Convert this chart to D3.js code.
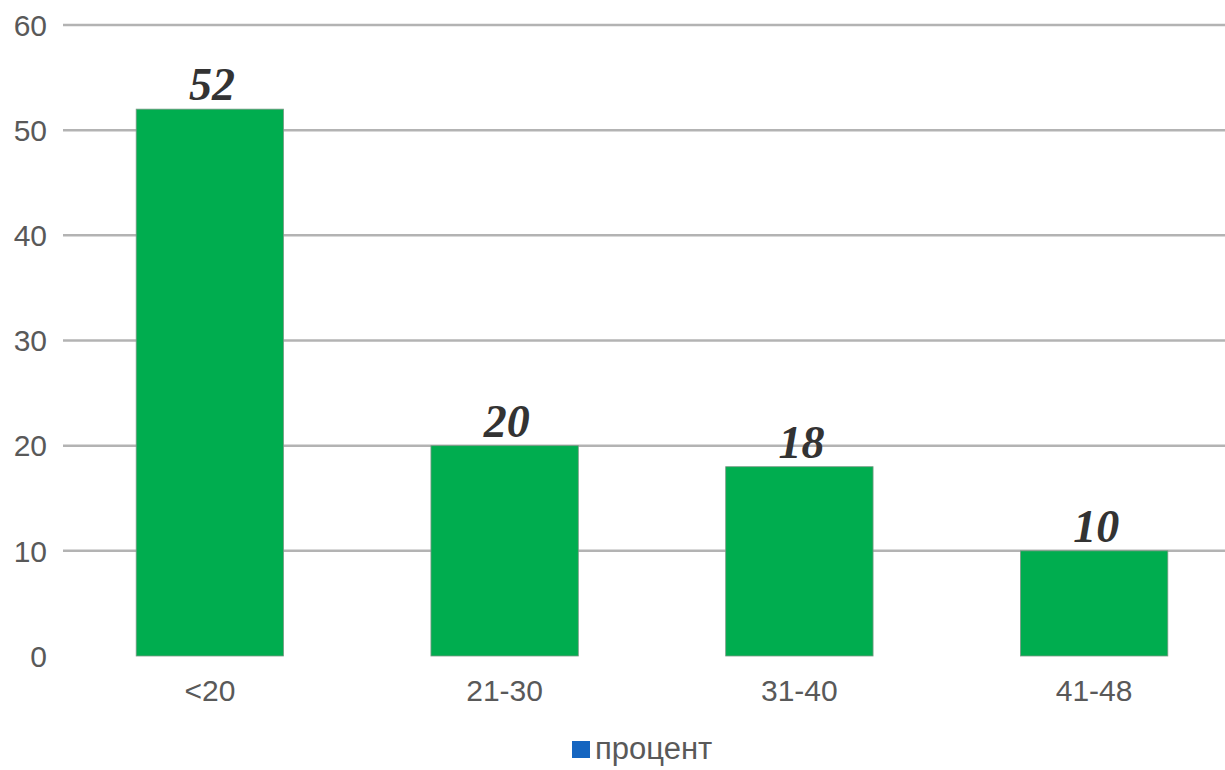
<!DOCTYPE html>
<html><head><meta charset="utf-8">
<script src="https://cdn.jsdelivr.net/npm/d3@7"></script>
<style>body{margin:0;background:#fff;overflow:hidden}</style>
</head><body>
<svg id="c" width="1225" height="770"></svg>
<script>
const categories = ["<20", "21-30", "31-40", "41-48"];
const values = [52, 20, 18, 10];
const yTicks = [0, 10, 20, 30, 40, 50, 60];
const seriesName = "процент";

const svg = d3.select("#c");
const x = d3.scaleBand().domain(categories).range([62.5, 1241.5]).paddingInner(0.5).paddingOuter(0.25);
const y = d3.scaleLinear().domain([0, 60]).range([656, 25]);

// gridlines
svg.append("g").selectAll("line").data(yTicks.filter(d => d > 0)).join("line")
  .attr("x1", 63).attr("x2", 1242)
  .attr("y1", d => y(d)).attr("y2", d => y(d))
  .attr("stroke", "#b3b3b3").attr("stroke-width", 2.5);

// y labels
svg.append("g").selectAll("text").data(yTicks).join("text")
  .attr("x", 47).attr("y", d => y(d)).attr("dy", "0.36em")
  .attr("text-anchor", "end").attr("fill", "#595959")
  .style("font", "30px 'Liberation Sans', Arial, sans-serif")
  .text(d => d);

// bars
svg.append("g").selectAll("rect").data(values).join("rect")
  .attr("x", (d, i) => x(categories[i]))
  .attr("width", x.bandwidth())
  .attr("y", d => y(d))
  .attr("height", d => y(0) - y(d))
  .attr("fill", "#00ad4f").attr("stroke", "#7a9a85").attr("stroke-width", 0.8);

// value labels
svg.append("g").selectAll("text").data(values).join("text")
  .attr("x", (d, i) => x(categories[i]) + x.bandwidth() / 2 + 2)
  .attr("y", d => y(d) - 9)
  .attr("text-anchor", "middle").attr("fill", "#333")
  .style("font", "italic bold 46px 'Liberation Serif', 'Times New Roman', serif")
  .text(d => d);

// category labels
svg.append("g").selectAll("text").data(categories).join("text")
  .attr("x", d => x(d) + x.bandwidth() / 2)
  .attr("y", 701)
  .attr("text-anchor", "middle").attr("fill", "#595959")
  .style("font", "30px 'Liberation Sans', Arial, sans-serif")
  .text(d => d);

// legend
svg.append("rect").attr("x", 572).attr("y", 741).attr("width", 18).attr("height", 17).attr("fill", "#1565c0");
svg.append("text").attr("x", 595).attr("y", 759).attr("fill", "#595959")
  .style("font", "31px 'Liberation Sans', Arial, sans-serif").text(seriesName);
</script>
</body></html>
